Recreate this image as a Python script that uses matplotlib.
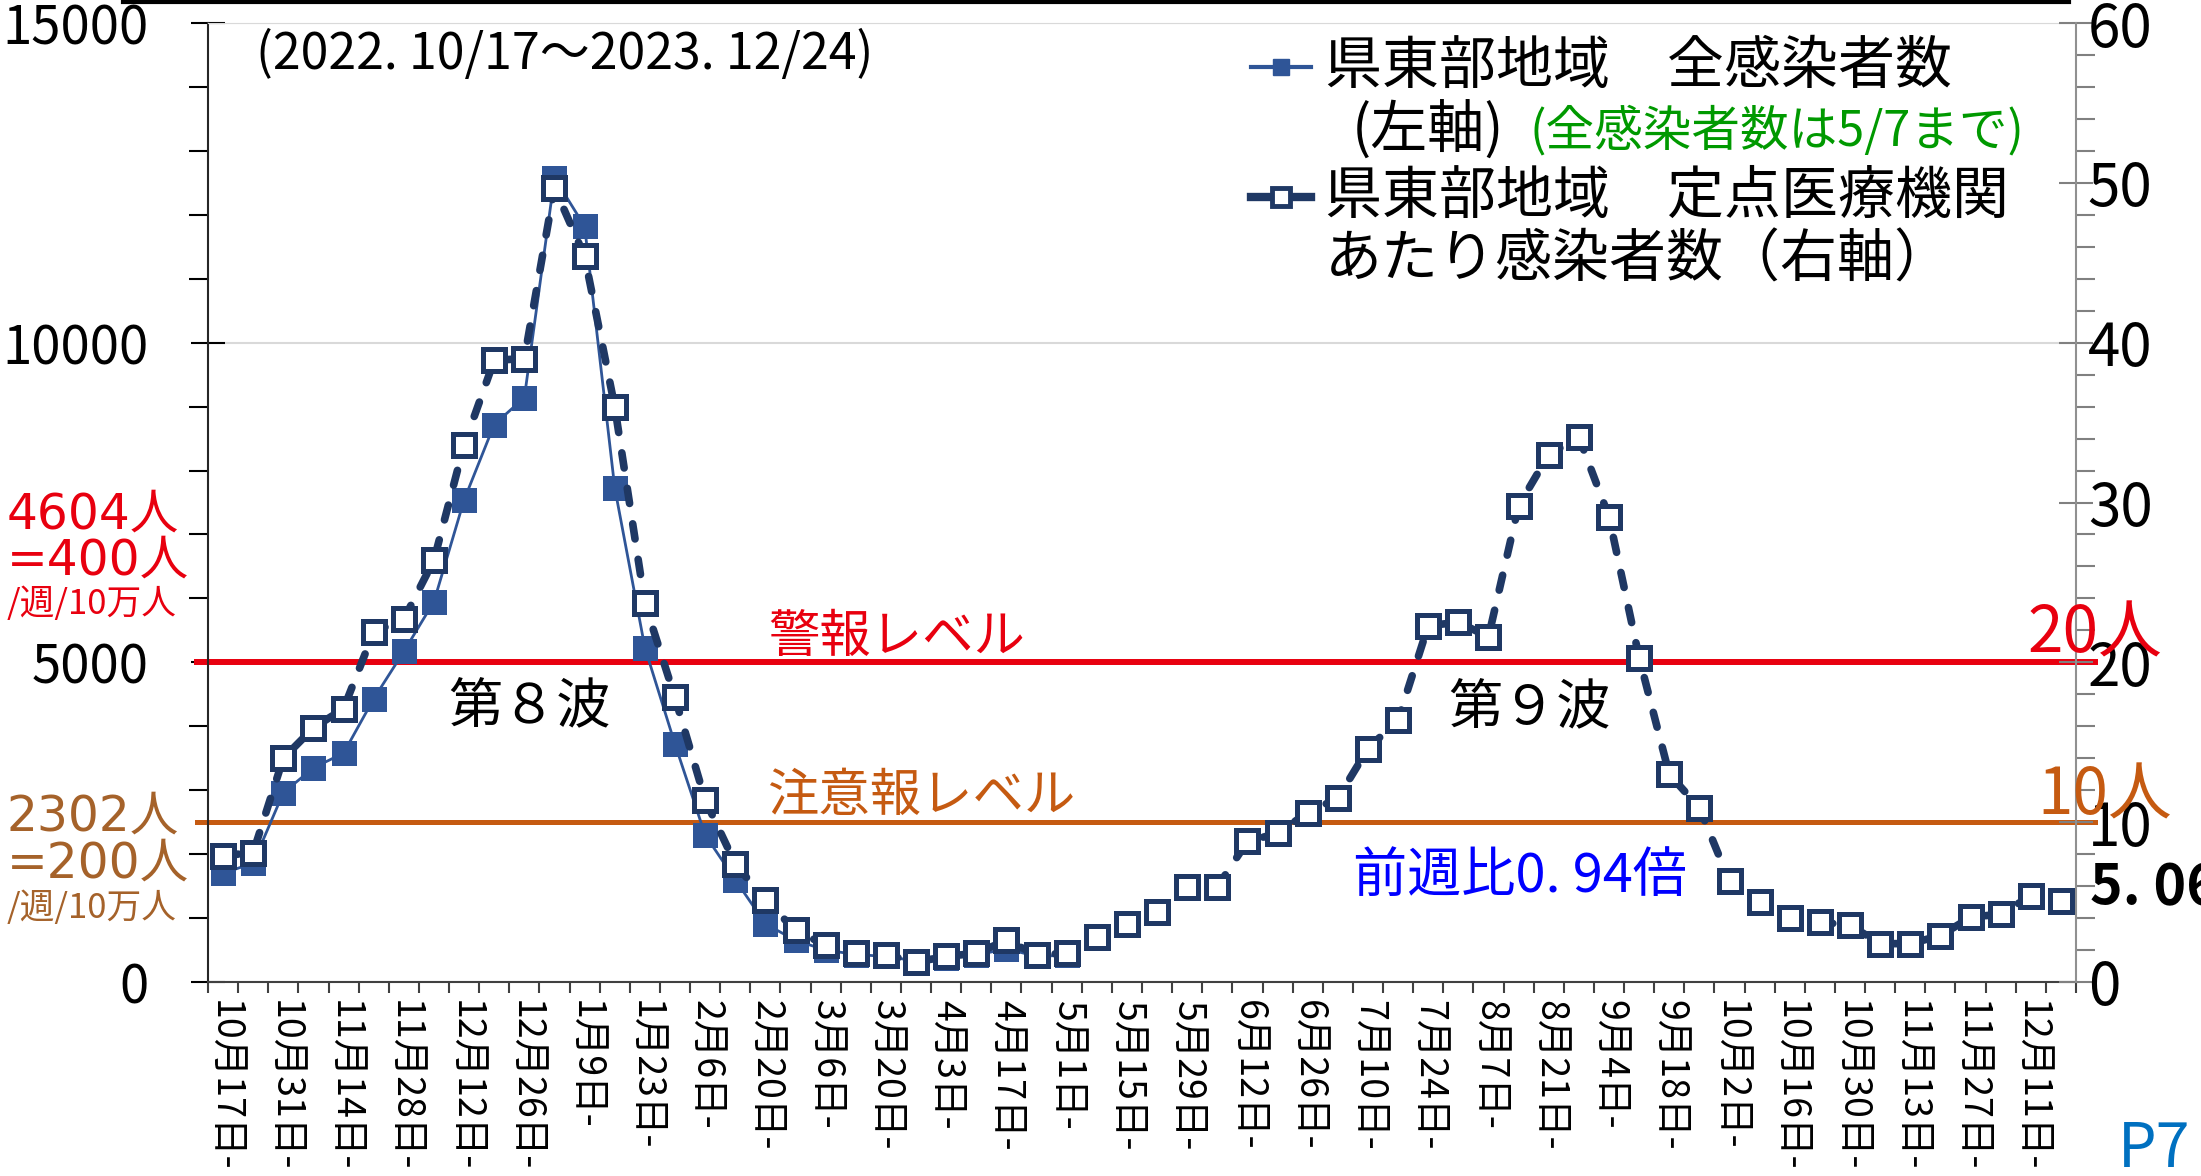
import matplotlib
matplotlib.use("Agg")
import matplotlib.pyplot as plt
from matplotlib.lines import Line2D
from matplotlib.ticker import MultipleLocator
import numpy as np

plt.rcParams["font.family"] = ["Noto Sans CJK JP", "DejaVu Sans"]

W, H = 2201, 1176

# week start labels (every 2nd week)
week_labels = [
    "10月17日-", "10月31日-", "11月14日-", "11月28日-", "12月12日-", "12月26日-",
    "1月9日-", "1月23日-", "2月6日-", "2月20日-", "3月6日-", "3月20日-",
    "4月3日-", "4月17日-", "5月1日-", "5月15日-", "5月29日-", "6月12日-",
    "6月26日-", "7月10日-", "7月24日-", "8月7日-", "8月21日-", "9月4日-",
    "9月18日-", "10月2日-", "10月16日-", "10月30日-", "11月13日-", "11月27日-",
    "12月11日-",
]

# 県東部地域 全感染者数 (left axis), until 5/7
all_cases = [
    1700, 1860, 2960, 3350, 3580, 4430, 5170, 5950, 7540, 8720,
    9140, 12580, 11820, 7730, 5230, 3720, 2300, 1600, 910, 650,
    500, 430, 400, 330, 380, 420, 520, 400, 420,
]

# 県東部地域 定点医療機関あたり感染者数 (right axis)
per_site = [
    7.9, 8.1, 14.0, 15.9, 17.1, 21.9, 22.7, 26.4, 33.6, 38.9,
    39.0, 49.7, 45.4, 36.0, 23.7, 17.8, 11.4, 7.4, 5.1, 3.25,
    2.3, 1.8, 1.7, 1.25, 1.6, 1.8, 2.6, 1.7, 1.8, 2.8,
    3.6, 4.4, 5.95, 5.95, 8.8, 9.3, 10.6, 11.5, 14.6, 16.4,
    22.3, 22.5, 21.6, 29.8, 33.0, 34.1, 29.1, 20.3, 13.0, 10.9,
    6.3, 5.0, 4.0, 3.75, 3.55, 2.4, 2.4, 2.9, 4.05, 4.25,
    5.38, 5.06,
]

alert_level = 20     # 警報レベル (right axis)
caution_level = 10   # 注意報レベル (right axis)

blue = "#2F5597"
navy = "#1F3864"
red = "#E8000F"
orange = "#C55A11"
brown = "#A5622A"

n = len(per_site)
x_all = np.arange(n)
x_cases = np.arange(len(all_cases))

fig = plt.figure(figsize=(W / 100, H / 100), dpi=100)
ax = fig.add_axes([208 / W, 1 - 982 / H, (2076 - 208) / W, (982 - 23) / H])
ax2 = ax.twinx()


def fy(py):
    return 1 - py / H


def put(px, py, s, **kw):
    kw.setdefault("va", "center")
    kw.setdefault("ha", "left")
    fig.text(px / W, fy(py), s, **kw)


# left axis
ymax_left, ymax_right = 15000, 60
ratio = ymax_left / ymax_right
ax.set_xlim(-0.5, n - 0.5)
ax.set_ylim(0, ymax_left)
ax.yaxis.set_major_locator(MultipleLocator(5000))
ax.yaxis.set_minor_locator(MultipleLocator(1000))
ax.yaxis.grid(True, which="major", color="#d9d9d9", lw=1.5)
ax.set_axisbelow(True)
ax.tick_params(axis="y", which="major", direction="inout", length=25, width=1.5,
               labelsize=38, pad=30)
ax.tick_params(axis="y", which="minor", direction="out", length=14, width=1.5)
ax.set_xticks(np.arange(0, n, 2))
ax.set_xticklabels(week_labels, rotation=-90, fontsize=27)
ax.set_xticks(np.arange(-0.5, n, 1), minor=True)
ax.tick_params(axis="x", which="major", length=0, pad=13)
ax.tick_params(axis="x", which="minor", direction="out", length=8, width=1.5,
               color="#404040")
ax.spines["right"].set_visible(False)
ax.spines["top"].set_color("#d9d9d9")
ax.spines["left"].set_color("#262626")
ax.spines["left"].set_linewidth(1.5)
ax.spines["bottom"].set_color("#404040")
ax.spines["bottom"].set_linewidth(1.5)

# level lines (right-axis values mapped to left scale)
ax.axhline(alert_level * ratio, xmin=-0.006, xmax=1.01, color=red, lw=4.3,
           clip_on=False, zorder=1)
ax.axhline(caution_level * ratio, xmin=-0.006, xmax=1.01, color=orange, lw=3.6,
           clip_on=False, zorder=1)

ax.plot(x_cases, all_cases, "-", color=blue, lw=2, marker="s", ms=18,
        mew=0, zorder=3)

# right axis
ax2.set_ylim(0, ymax_right)
ax2.yaxis.set_major_locator(MultipleLocator(10))
ax2.yaxis.set_minor_locator(MultipleLocator(2))
ax2.tick_params(axis="y", which="major", direction="inout", length=25, width=1.5,
                labelsize=42, pad=-4, color="#808080")
ax2.tick_params(axis="y", which="minor", direction="out", length=14, width=1.5,
                color="#808080")
for s in ["left", "top", "bottom"]:
    ax2.spines[s].set_visible(False)
ax2.spines["right"].set_color("#909090")
ax2.spines["right"].set_linewidth(1.5)

ax2.plot(x_all, per_site, color=navy, lw=5.5, linestyle=(0, (2.0, 2.7)),
         dash_capstyle="round", marker="s", ms=15.5, mfc="white", mec=navy,
         mew=3.6, zorder=3)

# top rule
fig.add_artist(Line2D([123 / W, 2069 / W], [fy(2), fy(2)], color="black", lw=3))

# period
put(256, 55, "(2022. 10/17～2023. 12/24)", fontsize=36)

# legend
fig.add_artist(Line2D([1251 / W, 1311 / W], [fy(67)] * 2, color=blue, lw=3))
fig.add_artist(Line2D([1281 / W], [fy(67)], marker="s", ms=11, color=blue, ls="none"))
fig.add_artist(Line2D([1251 / W, 1311 / W], [fy(197)] * 2, color=navy, lw=6))
fig.add_artist(Line2D([1281 / W], [fy(197)], marker="s", ms=13, mfc="white",
                      mec=navy, mew=3.5, ls="none"))
put(1325, 67, "県東部地域　全感染者数", fontsize=41)
put(1352, 131, "(左軸)", fontsize=41)
put(1530, 131, "(全感染者数は5/7まで)", fontsize=35, color="#009900")
put(1325, 197, "県東部地域　定点医療機関", fontsize=41)
put(1325, 260, "あたり感染者数（右軸）", fontsize=41)

# threshold notes on left (wider digits)
wide = ["DejaVu Sans", "Noto Sans CJK JP"]
put(7, 515, "4604人", fontsize=35, color=red, family=wide)
put(7, 561, "=400人", fontsize=35, color=red, family=wide)
put(7, 604, "/週/10万人", fontsize=25, color=red)
put(7, 817, "2302人", fontsize=35, color=brown, family=wide)
put(7, 864, "=200人", fontsize=35, color=brown, family=wide)
put(7, 909, "/週/10万人", fontsize=25, color=brown)

put(768, 637, "警報レベル", fontsize=37, color=red)
put(767, 796, "注意報レベル", fontsize=37, color=orange)
put(448, 708, "第８波", fontsize=39)
put(1448, 709, "第９波", fontsize=39)
put(1353, 876, "前週比0. 94倍", fontsize=39, color="#0000FF")

put(2027, 634, "20人", fontsize=46, color=red)
put(2037, 796, "10人", fontsize=46, color=orange)
put(2090, 888, "5. 06", fontsize=40, fontweight="bold")
put(2118, 1150, "P7", fontsize=44, color="#0070C0")

fig.savefig("out.png", dpi=100, facecolor="white")
